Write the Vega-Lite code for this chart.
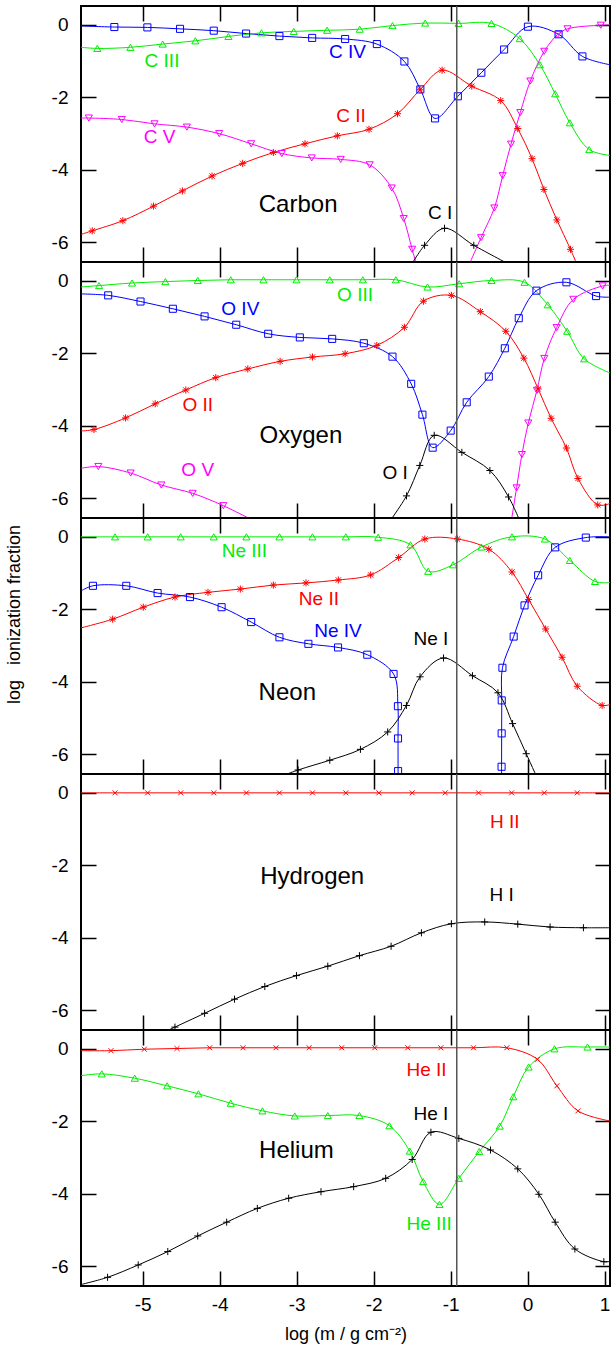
{
"$schema": "https://vega.github.io/schema/vega-lite/v6.json",
"padding": {"left": 4, "right": 0, "top": 4, "bottom": 0},
"spacing": 0,
"bounds": "flush",
"config": {
  "font": "Liberation Sans",
  "view": {"stroke": "#000000", "strokeWidth": 2},
  "axis": {"domain": false, "ticks": false, "grid": true, "gridColor": "#000000", "gridWidth": 1.5, "gridOpacity": 1, "labelFont": "Liberation Sans", "labelFontSize": 19, "labelColor": "#000000", "titleFont": "Liberation Sans", "titleFontSize": 18, "titleFontWeight": "normal", "titleColor": "#000000"},
  "axisX": {"gridDash": [15, 226, 15, 0], "labelPadding": 9, "labelFlush": false, "titlePadding": 11},
  "axisY": {"gridDash": [15, 499, 15, 0], "labelPadding": 13, "titlePadding": 28}
},
"resolve": {"scale": {"x": "independent", "y": "independent", "color": "independent", "shape": "independent"}},
"datasets": {
"vline": [{"x": -0.92, "y": 0.52, "y2": -6.54}],
"curves": [
{"p":"C","s":"C4","st":"IV","x":-5.8,"y":-0.03},{"p":"C","s":"C4","st":"IV","x":-5.367,"y":-0.06},{"p":"C","s":"C4","st":"IV","x":-4.938,"y":-0.07},{"p":"C","s":"C4","st":"IV","x":-4.514,"y":-0.11},{"p":"C","s":"C4","st":"IV","x":-4.076,"y":-0.16},{"p":"C","s":"C4","st":"IV","x":-3.656,"y":-0.24},{"p":"C","s":"C4","st":"IV","x":-3.223,"y":-0.31},{"p":"C","s":"C4","st":"IV","x":-2.798,"y":-0.36},{"p":"C","s":"C4","st":"IV","x":-2.37,"y":-0.39},{"p":"C","s":"C4","st":"IV","x":-1.958,"y":-0.53},{"p":"C","s":"C4","st":"IV","x":-1.6,"y":-1.01},{"p":"C","s":"C4","st":"IV","x":-1.393,"y":-1.78},{"p":"C","s":"C4","st":"IV","x":-1.202,"y":-2.58},{"p":"C","s":"C4","st":"IV","x":-0.906,"y":-1.97},{"p":"C","s":"C4","st":"IV","x":-0.601,"y":-1.32},{"p":"C","s":"C4","st":"IV","x":-0.305,"y":-0.68},{"p":"C","s":"C4","st":"IV","x":0.004,"y":-0.05},{"p":"C","s":"C4","st":"IV","x":0.402,"y":-0.26},{"p":"C","s":"C4","st":"IV","x":0.712,"y":-0.87},{"p":"C","s":"C4","st":"IV","x":1.07,"y":-1.1},
{"p":"C","s":"C3","st":"III","x":-5.8,"y":-0.62},{"p":"C","s":"C3","st":"III","x":-5.588,"y":-0.65},{"p":"C","s":"C3","st":"III","x":-5.159,"y":-0.62},{"p":"C","s":"C3","st":"III","x":-4.739,"y":-0.53},{"p":"C","s":"C3","st":"III","x":-4.315,"y":-0.44},{"p":"C","s":"C3","st":"III","x":-3.886,"y":-0.32},{"p":"C","s":"C3","st":"III","x":-3.457,"y":-0.22},{"p":"C","s":"C3","st":"III","x":-3.037,"y":-0.18},{"p":"C","s":"C3","st":"III","x":-2.604,"y":-0.15},{"p":"C","s":"C3","st":"III","x":-2.18,"y":-0.12},{"p":"C","s":"C3","st":"III","x":-1.755,"y":-0.02},{"p":"C","s":"C3","st":"III","x":-1.33,"y":0.05},{"p":"C","s":"C3","st":"III","x":-0.897,"y":0.04},{"p":"C","s":"C3","st":"III","x":-0.469,"y":0.04},{"p":"C","s":"C3","st":"III","x":-0.102,"y":-0.38},{"p":"C","s":"C3","st":"III","x":0.159,"y":-1.1},{"p":"C","s":"C3","st":"III","x":0.358,"y":-1.9},{"p":"C","s":"C3","st":"III","x":0.548,"y":-2.7},{"p":"C","s":"C3","st":"III","x":0.8,"y":-3.44},{"p":"C","s":"C3","st":"III","x":1.07,"y":-3.6},
{"p":"C","s":"C2","st":"II","x":-5.8,"y":-5.78},{"p":"C","s":"C2","st":"II","x":-5.654,"y":-5.68},{"p":"C","s":"C2","st":"II","x":-5.256,"y":-5.4},{"p":"C","s":"C2","st":"II","x":-4.859,"y":-5.0},{"p":"C","s":"C2","st":"II","x":-4.483,"y":-4.58},{"p":"C","s":"C2","st":"II","x":-4.098,"y":-4.17},{"p":"C","s":"C2","st":"II","x":-3.7,"y":-3.82},{"p":"C","s":"C2","st":"II","x":-3.302,"y":-3.52},{"p":"C","s":"C2","st":"II","x":-2.891,"y":-3.28},{"p":"C","s":"C2","st":"II","x":-2.471,"y":-3.06},{"p":"C","s":"C2","st":"II","x":-2.06,"y":-2.88},{"p":"C","s":"C2","st":"II","x":-1.689,"y":-2.45},{"p":"C","s":"C2","st":"II","x":-1.397,"y":-1.79},{"p":"C","s":"C2","st":"II","x":-1.11,"y":-1.25},{"p":"C","s":"C2","st":"II","x":-0.725,"y":-1.69},{"p":"C","s":"C2","st":"II","x":-0.349,"y":-2.09},{"p":"C","s":"C2","st":"II","x":-0.128,"y":-2.86},{"p":"C","s":"C2","st":"II","x":0.058,"y":-3.69},{"p":"C","s":"C2","st":"II","x":0.212,"y":-4.54},{"p":"C","s":"C2","st":"II","x":0.38,"y":-5.38},{"p":"C","s":"C2","st":"II","x":0.557,"y":-6.19},{"p":"C","s":"C2","st":"II","x":0.72,"y":-7.0},
{"p":"C","s":"C5a","st":"V","x":-5.8,"y":-2.57},{"p":"C","s":"C5a","st":"V","x":-5.698,"y":-2.57},{"p":"C","s":"C5a","st":"V","x":-5.27,"y":-2.61},{"p":"C","s":"C5a","st":"V","x":-4.845,"y":-2.73},{"p":"C","s":"C5a","st":"V","x":-4.425,"y":-2.82},{"p":"C","s":"C5a","st":"V","x":-4.005,"y":-3.0},{"p":"C","s":"C5a","st":"V","x":-3.59,"y":-3.28},{"p":"C","s":"C5a","st":"V","x":-3.192,"y":-3.55},{"p":"C","s":"C5a","st":"V","x":-2.803,"y":-3.67},{"p":"C","s":"C5a","st":"V","x":-2.427,"y":-3.71},{"p":"C","s":"C5a","st":"V","x":-2.051,"y":-3.86},{"p":"C","s":"C5a","st":"V","x":-1.764,"y":-4.5},{"p":"C","s":"C5a","st":"V","x":-1.609,"y":-5.34},{"p":"C","s":"C5a","st":"V","x":-1.499,"y":-6.19},{"p":"C","s":"C5a","st":"V","x":-1.39,"y":-7.0},
{"p":"C","s":"C5b","st":"V","x":-0.84,"y":-7.0},{"p":"C","s":"C5b","st":"V","x":-0.605,"y":-5.87},{"p":"C","s":"C5b","st":"V","x":-0.432,"y":-5.05},{"p":"C","s":"C5b","st":"V","x":-0.324,"y":-4.16},{"p":"C","s":"C5b","st":"V","x":-0.216,"y":-3.29},{"p":"C","s":"C5b","st":"V","x":-0.095,"y":-2.42},{"p":"C","s":"C5b","st":"V","x":0.035,"y":-1.55},{"p":"C","s":"C5b","st":"V","x":0.216,"y":-0.73},{"p":"C","s":"C5b","st":"V","x":0.389,"y":-0.27},{"p":"C","s":"C5b","st":"V","x":0.518,"y":-0.11},{"p":"C","s":"C5b","st":"V","x":0.95,"y":-0.01},{"p":"C","s":"C5b","st":"V","x":1.07,"y":0.0},
{"p":"C","s":"C1","st":"I","x":-1.56,"y":-6.8},{"p":"C","s":"C1","st":"I","x":-1.338,"y":-6.08},{"p":"C","s":"C1","st":"I","x":-1.079,"y":-5.61},{"p":"C","s":"C1","st":"I","x":-0.699,"y":-6.08},{"p":"C","s":"C1","st":"I","x":-0.2,"y":-6.65},
{"p":"O","s":"O3","st":"III","x":-5.8,"y":-0.17},{"p":"O","s":"O3","st":"III","x":-5.566,"y":-0.13},{"p":"O","s":"O3","st":"III","x":-5.137,"y":-0.06},{"p":"O","s":"O3","st":"III","x":-4.704,"y":-0.02},{"p":"O","s":"O3","st":"III","x":-4.284,"y":0.01},{"p":"O","s":"O3","st":"III","x":-3.855,"y":0.03},{"p":"O","s":"O3","st":"III","x":-3.431,"y":0.03},{"p":"O","s":"O3","st":"III","x":-3.002,"y":0.03},{"p":"O","s":"O3","st":"III","x":-2.569,"y":0.03},{"p":"O","s":"O3","st":"III","x":-2.14,"y":0.03},{"p":"O","s":"O3","st":"III","x":-1.711,"y":0.03},{"p":"O","s":"O3","st":"III","x":-1.3,"y":-0.17},{"p":"O","s":"O3","st":"III","x":-0.889,"y":-0.08},{"p":"O","s":"O3","st":"III","x":-0.469,"y":0.01},{"p":"O","s":"O3","st":"III","x":-0.04,"y":-0.04},{"p":"O","s":"O3","st":"III","x":0.261,"y":-0.66},{"p":"O","s":"O3","st":"III","x":0.513,"y":-1.39},{"p":"O","s":"O3","st":"III","x":0.734,"y":-2.15},{"p":"O","s":"O3","st":"III","x":1.07,"y":-2.54},
{"p":"O","s":"O4","st":"IV","x":-5.8,"y":-0.36},{"p":"O","s":"O4","st":"IV","x":-5.447,"y":-0.4},{"p":"O","s":"O4","st":"IV","x":-5.027,"y":-0.57},{"p":"O","s":"O4","st":"IV","x":-4.607,"y":-0.77},{"p":"O","s":"O4","st":"IV","x":-4.195,"y":-0.98},{"p":"O","s":"O4","st":"IV","x":-3.784,"y":-1.21},{"p":"O","s":"O4","st":"IV","x":-3.369,"y":-1.46},{"p":"O","s":"O4","st":"IV","x":-2.958,"y":-1.56},{"p":"O","s":"O4","st":"IV","x":-2.538,"y":-1.6},{"p":"O","s":"O4","st":"IV","x":-2.127,"y":-1.72},{"p":"O","s":"O4","st":"IV","x":-1.755,"y":-2.09},{"p":"O","s":"O4","st":"IV","x":-1.512,"y":-2.84},{"p":"O","s":"O4","st":"IV","x":-1.366,"y":-3.69},{"p":"O","s":"O4","st":"IV","x":-1.233,"y":-4.6},{"p":"O","s":"O4","st":"IV","x":-0.999,"y":-4.13},{"p":"O","s":"O4","st":"IV","x":-0.791,"y":-3.35},{"p":"O","s":"O4","st":"IV","x":-0.504,"y":-2.64},{"p":"O","s":"O4","st":"IV","x":-0.296,"y":-1.86},{"p":"O","s":"O4","st":"IV","x":-0.115,"y":-1.03},{"p":"O","s":"O4","st":"IV","x":0.115,"y":-0.27},{"p":"O","s":"O4","st":"IV","x":0.504,"y":-0.04},{"p":"O","s":"O4","st":"IV","x":0.889,"y":-0.42},{"p":"O","s":"O4","st":"IV","x":1.07,"y":-0.45},
{"p":"O","s":"O2","st":"II","x":-5.8,"y":-4.14},{"p":"O","s":"O2","st":"II","x":-5.632,"y":-4.1},{"p":"O","s":"O2","st":"II","x":-5.221,"y":-3.78},{"p":"O","s":"O2","st":"II","x":-4.836,"y":-3.39},{"p":"O","s":"O2","st":"II","x":-4.439,"y":-3.01},{"p":"O","s":"O2","st":"II","x":-4.05,"y":-2.67},{"p":"O","s":"O2","st":"II","x":-3.634,"y":-2.43},{"p":"O","s":"O2","st":"II","x":-3.214,"y":-2.22},{"p":"O","s":"O2","st":"II","x":-2.794,"y":-2.1},{"p":"O","s":"O2","st":"II","x":-2.37,"y":-2.01},{"p":"O","s":"O2","st":"II","x":-1.958,"y":-1.78},{"p":"O","s":"O2","st":"II","x":-1.6,"y":-1.28},{"p":"O","s":"O2","st":"II","x":-1.353,"y":-0.56},{"p":"O","s":"O2","st":"II","x":-0.99,"y":-0.4},{"p":"O","s":"O2","st":"II","x":-0.614,"y":-0.85},{"p":"O","s":"O2","st":"II","x":-0.283,"y":-1.39},{"p":"O","s":"O2","st":"II","x":-0.049,"y":-2.13},{"p":"O","s":"O2","st":"II","x":0.137,"y":-2.98},{"p":"O","s":"O2","st":"II","x":0.305,"y":-3.79},{"p":"O","s":"O2","st":"II","x":0.504,"y":-4.61},{"p":"O","s":"O2","st":"II","x":0.654,"y":-5.45},{"p":"O","s":"O2","st":"II","x":0.911,"y":-6.18},{"p":"O","s":"O2","st":"II","x":1.07,"y":-6.14},
{"p":"O","s":"O5a","st":"V","x":-5.8,"y":-5.17},{"p":"O","s":"O5a","st":"V","x":-5.575,"y":-5.12},{"p":"O","s":"O5a","st":"V","x":-5.155,"y":-5.3},{"p":"O","s":"O5a","st":"V","x":-4.757,"y":-5.63},{"p":"O","s":"O5a","st":"V","x":-4.35,"y":-5.86},{"p":"O","s":"O5a","st":"V","x":-3.952,"y":-6.2},{"p":"O","s":"O5a","st":"V","x":-3.39,"y":-6.8},
{"p":"O","s":"O5b","st":"V","x":-0.24,"y":-7.0},{"p":"O","s":"O5b","st":"V","x":-0.143,"y":-5.71},{"p":"O","s":"O5b","st":"V","x":-0.074,"y":-4.79},{"p":"O","s":"O5b","st":"V","x":0.009,"y":-3.92},{"p":"O","s":"O5b","st":"V","x":0.121,"y":-3.02},{"p":"O","s":"O5b","st":"V","x":0.217,"y":-2.14},{"p":"O","s":"O5b","st":"V","x":0.377,"y":-1.29},{"p":"O","s":"O5b","st":"V","x":0.594,"y":-0.51},{"p":"O","s":"O5b","st":"V","x":0.975,"y":-0.14},{"p":"O","s":"O5b","st":"V","x":1.07,"y":-0.12},
{"p":"O","s":"O1","st":"I","x":-1.88,"y":-6.9},{"p":"O","s":"O1","st":"I","x":-1.573,"y":-5.93},{"p":"O","s":"O1","st":"I","x":-1.4,"y":-5.09},{"p":"O","s":"O1","st":"I","x":-1.213,"y":-4.26},{"p":"O","s":"O1","st":"I","x":-0.854,"y":-4.73},{"p":"O","s":"O1","st":"I","x":-0.49,"y":-5.23},{"p":"O","s":"O1","st":"I","x":-0.247,"y":-5.96},{"p":"O","s":"O1","st":"I","x":-0.065,"y":-6.8},
{"p":"Ne","s":"Ne3","st":"III","x":-5.8,"y":0.0},{"p":"Ne","s":"Ne3","st":"III","x":-5.358,"y":0.0},{"p":"Ne","s":"Ne3","st":"III","x":-4.934,"y":0.0},{"p":"Ne","s":"Ne3","st":"III","x":-4.505,"y":0.0},{"p":"Ne","s":"Ne3","st":"III","x":-4.076,"y":0.0},{"p":"Ne","s":"Ne3","st":"III","x":-3.652,"y":0.0},{"p":"Ne","s":"Ne3","st":"III","x":-3.223,"y":0.0},{"p":"Ne","s":"Ne3","st":"III","x":-2.794,"y":0.0},{"p":"Ne","s":"Ne3","st":"III","x":-2.361,"y":0.0},{"p":"Ne","s":"Ne3","st":"III","x":-1.941,"y":-0.01},{"p":"Ne","s":"Ne3","st":"III","x":-1.521,"y":-0.22},{"p":"Ne","s":"Ne3","st":"III","x":-1.291,"y":-0.95},{"p":"Ne","s":"Ne3","st":"III","x":-0.968,"y":-0.77},{"p":"Ne","s":"Ne3","st":"III","x":-0.601,"y":-0.28},{"p":"Ne","s":"Ne3","st":"III","x":-0.203,"y":0.0},{"p":"Ne","s":"Ne3","st":"III","x":0.225,"y":-0.06},{"p":"Ne","s":"Ne3","st":"III","x":0.548,"y":-0.65},{"p":"Ne","s":"Ne3","st":"III","x":0.875,"y":-1.23},{"p":"Ne","s":"Ne3","st":"III","x":1.07,"y":-1.26},
{"p":"Ne","s":"Ne2","st":"II","x":-5.8,"y":-2.51},{"p":"Ne","s":"Ne2","st":"II","x":-5.389,"y":-2.27},{"p":"Ne","s":"Ne2","st":"II","x":-4.991,"y":-1.94},{"p":"Ne","s":"Ne2","st":"II","x":-4.58,"y":-1.66},{"p":"Ne","s":"Ne2","st":"II","x":-4.151,"y":-1.53},{"p":"Ne","s":"Ne2","st":"II","x":-3.731,"y":-1.44},{"p":"Ne","s":"Ne2","st":"II","x":-3.302,"y":-1.33},{"p":"Ne","s":"Ne2","st":"II","x":-2.878,"y":-1.27},{"p":"Ne","s":"Ne2","st":"II","x":-2.458,"y":-1.19},{"p":"Ne","s":"Ne2","st":"II","x":-2.038,"y":-1.05},{"p":"Ne","s":"Ne2","st":"II","x":-1.675,"y":-0.57},{"p":"Ne","s":"Ne2","st":"II","x":-1.335,"y":-0.06},{"p":"Ne","s":"Ne2","st":"II","x":-0.911,"y":-0.06},{"p":"Ne","s":"Ne2","st":"II","x":-0.504,"y":-0.34},{"p":"Ne","s":"Ne2","st":"II","x":-0.203,"y":-0.97},{"p":"Ne","s":"Ne2","st":"II","x":0.013,"y":-1.73},{"p":"Ne","s":"Ne2","st":"II","x":0.234,"y":-2.54},{"p":"Ne","s":"Ne2","st":"II","x":0.447,"y":-3.32},{"p":"Ne","s":"Ne2","st":"II","x":0.645,"y":-4.12},{"p":"Ne","s":"Ne2","st":"II","x":0.968,"y":-4.65},{"p":"Ne","s":"Ne2","st":"II","x":1.07,"y":-4.62},
{"p":"Ne","s":"Ne4a","st":"IV","x":-5.8,"y":-1.49},{"p":"Ne","s":"Ne4a","st":"IV","x":-5.645,"y":-1.35},{"p":"Ne","s":"Ne4a","st":"IV","x":-5.212,"y":-1.35},{"p":"Ne","s":"Ne4a","st":"IV","x":-4.805,"y":-1.55},{"p":"Ne","s":"Ne4a","st":"IV","x":-4.385,"y":-1.66},{"p":"Ne","s":"Ne4a","st":"IV","x":-3.974,"y":-1.94},{"p":"Ne","s":"Ne4a","st":"IV","x":-3.59,"y":-2.35},{"p":"Ne","s":"Ne4a","st":"IV","x":-3.223,"y":-2.77},{"p":"Ne","s":"Ne4a","st":"IV","x":-2.847,"y":-2.95},{"p":"Ne","s":"Ne4a","st":"IV","x":-2.462,"y":-3.05},{"p":"Ne","s":"Ne4a","st":"IV","x":-2.082,"y":-3.25},{"p":"Ne","s":"Ne4a","st":"IV","x":-1.741,"y":-3.78},{"p":"Ne","s":"Ne4a","st":"IV","x":-1.684,"y":-4.67},{"p":"Ne","s":"Ne4a","st":"IV","x":-1.683,"y":-5.56},{"p":"Ne","s":"Ne4a","st":"IV","x":-1.682,"y":-6.46},{"p":"Ne","s":"Ne4a","st":"IV","x":-1.681,"y":-7.2},
{"p":"Ne","s":"Ne4b","st":"IV","x":-0.339,"y":-7.2},{"p":"Ne","s":"Ne4b","st":"IV","x":-0.338,"y":-6.34},{"p":"Ne","s":"Ne4b","st":"IV","x":-0.337,"y":-5.42},{"p":"Ne","s":"Ne4b","st":"IV","x":-0.336,"y":-4.51},{"p":"Ne","s":"Ne4b","st":"IV","x":-0.327,"y":-3.61},{"p":"Ne","s":"Ne4b","st":"IV","x":-0.181,"y":-2.75},{"p":"Ne","s":"Ne4b","st":"IV","x":-0.04,"y":-1.89},{"p":"Ne","s":"Ne4b","st":"IV","x":0.137,"y":-1.06},{"p":"Ne","s":"Ne4b","st":"IV","x":0.358,"y":-0.29},{"p":"Ne","s":"Ne4b","st":"IV","x":0.756,"y":-0.02},{"p":"Ne","s":"Ne4b","st":"IV","x":1.07,"y":0.0},
{"p":"Ne","s":"Ne1","st":"I","x":-3.32,"y":-6.7},{"p":"Ne","s":"Ne1","st":"I","x":-2.98,"y":-6.43},{"p":"Ne","s":"Ne1","st":"I","x":-2.569,"y":-6.16},{"p":"Ne","s":"Ne1","st":"I","x":-2.171,"y":-5.86},{"p":"Ne","s":"Ne1","st":"I","x":-1.817,"y":-5.38},{"p":"Ne","s":"Ne1","st":"I","x":-1.574,"y":-4.65},{"p":"Ne","s":"Ne1","st":"I","x":-1.397,"y":-3.86},{"p":"Ne","s":"Ne1","st":"I","x":-1.092,"y":-3.34},{"p":"Ne","s":"Ne1","st":"I","x":-0.716,"y":-3.83},{"p":"Ne","s":"Ne1","st":"I","x":-0.385,"y":-4.3},{"p":"Ne","s":"Ne1","st":"I","x":-0.195,"y":-5.15},{"p":"Ne","s":"Ne1","st":"I","x":-0.018,"y":-5.98},{"p":"Ne","s":"Ne1","st":"I","x":0.157,"y":-6.8},
{"p":"H","s":"H2","st":"II","x":-5.8,"y":0},{"p":"H","s":"H2","st":"II","x":-5.358,"y":0},{"p":"H","s":"H2","st":"II","x":-4.934,"y":0},{"p":"H","s":"H2","st":"II","x":-4.505,"y":0},{"p":"H","s":"H2","st":"II","x":-4.076,"y":0},{"p":"H","s":"H2","st":"II","x":-3.652,"y":0},{"p":"H","s":"H2","st":"II","x":-3.223,"y":0},{"p":"H","s":"H2","st":"II","x":-2.794,"y":0},{"p":"H","s":"H2","st":"II","x":-2.361,"y":0},{"p":"H","s":"H2","st":"II","x":-1.932,"y":0},{"p":"H","s":"H2","st":"II","x":-1.499,"y":0},{"p":"H","s":"H2","st":"II","x":-1.07,"y":0},{"p":"H","s":"H2","st":"II","x":-0.637,"y":0},{"p":"H","s":"H2","st":"II","x":-0.208,"y":0},{"p":"H","s":"H2","st":"II","x":0.217,"y":0},{"p":"H","s":"H2","st":"II","x":0.645,"y":0},{"p":"H","s":"H2","st":"II","x":1.07,"y":0},
{"p":"H","s":"H1","st":"I","x":-4.74,"y":-6.62},{"p":"H","s":"H1","st":"I","x":-4.58,"y":-6.46},{"p":"H","s":"H1","st":"I","x":-4.195,"y":-6.08},{"p":"H","s":"H1","st":"I","x":-3.806,"y":-5.69},{"p":"H","s":"H1","st":"I","x":-3.413,"y":-5.34},{"p":"H","s":"H1","st":"I","x":-3.002,"y":-5.04},{"p":"H","s":"H1","st":"I","x":-2.595,"y":-4.78},{"p":"H","s":"H1","st":"I","x":-2.184,"y":-4.49},{"p":"H","s":"H1","st":"I","x":-1.773,"y":-4.23},{"p":"H","s":"H1","st":"I","x":-1.379,"y":-3.86},{"p":"H","s":"H1","st":"I","x":-0.99,"y":-3.61},{"p":"H","s":"H1","st":"I","x":-0.557,"y":-3.56},{"p":"H","s":"H1","st":"I","x":-0.128,"y":-3.62},{"p":"H","s":"H1","st":"I","x":0.292,"y":-3.7},{"p":"H","s":"H1","st":"I","x":0.725,"y":-3.72},{"p":"H","s":"H1","st":"I","x":1.07,"y":-3.72},
{"p":"He","s":"He2","st":"II","x":-5.8,"y":-0.05},{"p":"He","s":"He2","st":"II","x":-5.411,"y":-0.05},{"p":"He","s":"He2","st":"II","x":-4.978,"y":-0.01},{"p":"He","s":"He2","st":"II","x":-4.553,"y":0.01},{"p":"He","s":"He2","st":"II","x":-4.129,"y":0.03},{"p":"He","s":"He2","st":"II","x":-3.696,"y":0.03},{"p":"He","s":"He2","st":"II","x":-3.267,"y":0.03},{"p":"He","s":"He2","st":"II","x":-2.838,"y":0.03},{"p":"He","s":"He2","st":"II","x":-2.414,"y":0.03},{"p":"He","s":"He2","st":"II","x":-1.985,"y":0.03},{"p":"He","s":"He2","st":"II","x":-1.556,"y":0.03},{"p":"He","s":"He2","st":"II","x":-1.127,"y":0.03},{"p":"He","s":"He2","st":"II","x":-0.703,"y":0.03},{"p":"He","s":"He2","st":"II","x":-0.27,"y":0.03},{"p":"He","s":"He2","st":"II","x":0.128,"y":-0.29},{"p":"He","s":"He2","st":"II","x":0.38,"y":-1.02},{"p":"He","s":"He2","st":"II","x":0.654,"y":-1.71},{"p":"He","s":"He2","st":"II","x":1.07,"y":-1.99},
{"p":"He","s":"He3","st":"III","x":-5.8,"y":-0.74},{"p":"He","s":"He3","st":"III","x":-5.53,"y":-0.69},{"p":"He","s":"He3","st":"III","x":-5.102,"y":-0.81},{"p":"He","s":"He3","st":"III","x":-4.682,"y":-1.02},{"p":"He","s":"He3","st":"III","x":-4.275,"y":-1.24},{"p":"He","s":"He3","st":"III","x":-3.855,"y":-1.5},{"p":"He","s":"He3","st":"III","x":-3.444,"y":-1.71},{"p":"He","s":"He3","st":"III","x":-3.024,"y":-1.85},{"p":"He","s":"He3","st":"III","x":-2.595,"y":-1.84},{"p":"He","s":"He3","st":"III","x":-2.184,"y":-1.84},{"p":"He","s":"He3","st":"III","x":-1.795,"y":-2.12},{"p":"He","s":"He3","st":"III","x":-1.53,"y":-2.82},{"p":"He","s":"He3","st":"III","x":-1.357,"y":-3.66},{"p":"He","s":"He3","st":"III","x":-1.145,"y":-4.29},{"p":"He","s":"He3","st":"III","x":-0.893,"y":-3.57},{"p":"He","s":"He3","st":"III","x":-0.628,"y":-2.83},{"p":"He","s":"He3","st":"III","x":-0.362,"y":-2.13},{"p":"He","s":"He3","st":"III","x":-0.186,"y":-1.32},{"p":"He","s":"He3","st":"III","x":0.013,"y":-0.5},{"p":"He","s":"He3","st":"III","x":0.349,"y":0.0},{"p":"He","s":"He3","st":"III","x":0.778,"y":0.05},{"p":"He","s":"He3","st":"III","x":1.07,"y":0.05},
{"p":"He","s":"He1","st":"I","x":-5.8,"y":-6.5},{"p":"He","s":"He1","st":"I","x":-5.455,"y":-6.3},{"p":"He","s":"He1","st":"I","x":-5.057,"y":-5.96},{"p":"He","s":"He1","st":"I","x":-4.673,"y":-5.59},{"p":"He","s":"He1","st":"I","x":-4.284,"y":-5.16},{"p":"He","s":"He1","st":"I","x":-3.908,"y":-4.78},{"p":"He","s":"He1","st":"I","x":-3.51,"y":-4.4},{"p":"He","s":"He1","st":"I","x":-3.103,"y":-4.12},{"p":"He","s":"He1","st":"I","x":-2.683,"y":-3.94},{"p":"He","s":"He1","st":"I","x":-2.259,"y":-3.8},{"p":"He","s":"He1","st":"I","x":-1.843,"y":-3.57},{"p":"He","s":"He1","st":"I","x":-1.499,"y":-3.05},{"p":"He","s":"He1","st":"I","x":-1.256,"y":-2.3},{"p":"He","s":"He1","st":"I","x":-0.893,"y":-2.47},{"p":"He","s":"He1","st":"I","x":-0.482,"y":-2.79},{"p":"He","s":"He1","st":"I","x":-0.128,"y":-3.31},{"p":"He","s":"He1","st":"I","x":0.146,"y":-4.01},{"p":"He","s":"He1","st":"I","x":0.358,"y":-4.78},{"p":"He","s":"He1","st":"I","x":0.614,"y":-5.52},{"p":"He","s":"He1","st":"I","x":0.99,"y":-5.87},{"p":"He","s":"He1","st":"I","x":1.07,"y":-5.86}
],
"labels": [
{"p":"C","t":"C III","st":"III","x":-4.748,"y":-1.01},{"p":"C","t":"C IV","st":"IV","x":-2.339,"y":-0.76},{"p":"C","t":"C II","st":"II","x":-2.294,"y":-2.5},{"p":"C","t":"C V","st":"V","x":-4.779,"y":-3.08},{"p":"C","t":"Carbon","st":"el","x":-2.98,"y":-4.97},{"p":"C","t":"C I","st":"I","x":-1.136,"y":-5.2},
{"p":"O","t":"O III","st":"III","x":-2.241,"y":-0.39},{"p":"O","t":"O IV","st":"IV","x":-3.731,"y":-0.77},{"p":"O","t":"O II","st":"II","x":-4.284,"y":-3.41},{"p":"O","t":"Oxygen","st":"el","x":-2.944,"y":-4.29},{"p":"O","t":"O V","st":"V","x":-4.284,"y":-5.21},{"p":"O","t":"O I","st":"I","x":-1.72,"y":-5.31},
{"p":"Ne","t":"Ne III","st":"III","x":-3.678,"y":-0.39},{"p":"Ne","t":"Ne II","st":"II","x":-2.71,"y":-1.71},{"p":"Ne","t":"Ne IV","st":"IV","x":-2.462,"y":-2.61},{"p":"Ne","t":"Ne I","st":"I","x":-1.256,"y":-2.81},{"p":"Ne","t":"Neon","st":"el","x":-3.121,"y":-4.3},
{"p":"H","t":"H II","st":"II","x":-0.296,"y":-0.81},{"p":"H","t":"Hydrogen","st":"el","x":-2.798,"y":-2.32},{"p":"H","t":"H I","st":"I","x":-0.336,"y":-2.83},
{"p":"He","t":"He II","st":"II","x":-1.313,"y":-0.58},{"p":"He","t":"He I","st":"I","x":-1.256,"y":-1.8},{"p":"He","t":"Helium","st":"el","x":-3.002,"y":-2.81},{"p":"He","t":"He III","st":"III","x":-1.278,"y":-4.83}
]
},
"vconcat": [
{
 "width": 529, "height": 256,
 "encoding": {
  "x": {"field": "x", "type": "quantitative", "scale": {"domain": [-5.8, 1.07], "nice": false, "zero": false}, "axis": {"values": [-5,-4,-3,-2,-1,0,1], "labels": false, "title": null}},
  "y": {"field": "y", "type": "quantitative", "scale": {"domain": [-6.54, 0.52], "nice": false, "zero": false}, "axis": {"values": [0,-2,-4,-6], "title": null, "labelExpr": "replace(datum.label, '\u2212', '-')"}},
  "color": {"field": "st", "type": "nominal", "scale": {"domain": ["I","II","III","IV","V","el"], "range": ["#000000","#ff0000","#00ee00","#0000ff","#ff00ff","#000000"]}, "legend": null}
 },
 "layer": [
   {"data": {"name": "curves"}, "transform": [{"filter": "datum.p === 'C'"}],
    "mark": {"type": "line", "clip": true, "interpolate": "catmull-rom", "strokeWidth": 1},
    "encoding": {"detail": {"field": "s", "type": "nominal"}}},
   {"data": {"name": "curves"}, "transform": [{"filter": "datum.p === 'C' && datum.x > -5.79 && datum.x < 1.06 && datum.y > -6.6"}],
    "mark": {"type": "point", "clip": true, "filled": false, "opacity": 1, "strokeWidth": 1, "size": 50},
    "encoding": {"shape": {"field": "st", "type": "nominal", "scale": {"domain": ["I","II","III","IV","V"], "range": ["M-1,0L1,0M0,-1L0,1","M-1,0L1,0M0,-1L0,1M-0.75,-0.75L0.75,0.75M-0.75,0.75L0.75,-0.75","triangle-up","square","triangle-down"]}, "legend": null}}},
   {"data": {"name": "labels"}, "transform": [{"filter": "datum.p === 'C' && datum.st !== 'el'"}],
    "mark": {"type": "text", "fontSize": 19, "font": "Liberation Sans"},
    "encoding": {"text": {"field": "t"}}},
   {"data": {"name": "labels"}, "transform": [{"filter": "datum.p === 'C' && datum.st === 'el'"}],
    "mark": {"type": "text", "fontSize": 24, "font": "Liberation Sans"},
    "encoding": {"text": {"field": "t"}}},
   {"data": {"name": "vline"},
    "mark": {"type": "rule", "color": "#555555", "strokeWidth": 1.5},
    "encoding": {"y2": {"field": "y2"}, "color": {"value": "#555555"}}}
 ]
},
{
 "width": 529, "height": 256,
 "encoding": {
  "x": {"field": "x", "type": "quantitative", "scale": {"domain": [-5.8, 1.07], "nice": false, "zero": false}, "axis": {"values": [-5,-4,-3,-2,-1,0,1], "labels": false, "title": null}},
  "y": {"field": "y", "type": "quantitative", "scale": {"domain": [-6.54, 0.52], "nice": false, "zero": false}, "axis": {"values": [0,-2,-4,-6], "title": null, "labelExpr": "replace(datum.label, '\u2212', '-')"}},
  "color": {"field": "st", "type": "nominal", "scale": {"domain": ["I","II","III","IV","V","el"], "range": ["#000000","#ff0000","#00ee00","#0000ff","#ff00ff","#000000"]}, "legend": null}
 },
 "layer": [
   {"data": {"name": "curves"}, "transform": [{"filter": "datum.p === 'O'"}],
    "mark": {"type": "line", "clip": true, "interpolate": "catmull-rom", "strokeWidth": 1},
    "encoding": {"detail": {"field": "s", "type": "nominal"}}},
   {"data": {"name": "curves"}, "transform": [{"filter": "datum.p === 'O' && datum.x > -5.79 && datum.x < 1.06 && datum.y > -6.6"}],
    "mark": {"type": "point", "clip": true, "filled": false, "opacity": 1, "strokeWidth": 1, "size": 50},
    "encoding": {"shape": {"field": "st", "type": "nominal", "scale": {"domain": ["I","II","III","IV","V"], "range": ["M-1,0L1,0M0,-1L0,1","M-1,0L1,0M0,-1L0,1M-0.75,-0.75L0.75,0.75M-0.75,0.75L0.75,-0.75","triangle-up","square","triangle-down"]}, "legend": null}}},
   {"data": {"name": "labels"}, "transform": [{"filter": "datum.p === 'O' && datum.st !== 'el'"}],
    "mark": {"type": "text", "fontSize": 19, "font": "Liberation Sans"},
    "encoding": {"text": {"field": "t"}}},
   {"data": {"name": "labels"}, "transform": [{"filter": "datum.p === 'O' && datum.st === 'el'"}],
    "mark": {"type": "text", "fontSize": 24, "font": "Liberation Sans"},
    "encoding": {"text": {"field": "t"}}},
   {"data": {"name": "vline"},
    "mark": {"type": "rule", "color": "#555555", "strokeWidth": 1.5},
    "encoding": {"y2": {"field": "y2"}, "color": {"value": "#555555"}}}
 ]
},
{
 "width": 529, "height": 256,
 "encoding": {
  "x": {"field": "x", "type": "quantitative", "scale": {"domain": [-5.8, 1.07], "nice": false, "zero": false}, "axis": {"values": [-5,-4,-3,-2,-1,0,1], "labels": false, "title": null}},
  "y": {"field": "y", "type": "quantitative", "scale": {"domain": [-6.54, 0.52], "nice": false, "zero": false}, "axis": {"values": [0,-2,-4,-6], "title": "log\u00a0\u00a0\u00a0ionization fraction", "titleY": 96, "labelExpr": "replace(datum.label, '\u2212', '-')"}},
  "color": {"field": "st", "type": "nominal", "scale": {"domain": ["I","II","III","IV","V","el"], "range": ["#000000","#ff0000","#00ee00","#0000ff","#ff00ff","#000000"]}, "legend": null}
 },
 "layer": [
   {"data": {"name": "curves"}, "transform": [{"filter": "datum.p === 'Ne'"}],
    "mark": {"type": "line", "clip": true, "interpolate": "catmull-rom", "strokeWidth": 1},
    "encoding": {"detail": {"field": "s", "type": "nominal"}}},
   {"data": {"name": "curves"}, "transform": [{"filter": "datum.p === 'Ne' && datum.x > -5.79 && datum.x < 1.06 && datum.y > -6.6"}],
    "mark": {"type": "point", "clip": true, "filled": false, "opacity": 1, "strokeWidth": 1, "size": 50},
    "encoding": {"shape": {"field": "st", "type": "nominal", "scale": {"domain": ["I","II","III","IV","V"], "range": ["M-1,0L1,0M0,-1L0,1","M-1,0L1,0M0,-1L0,1M-0.75,-0.75L0.75,0.75M-0.75,0.75L0.75,-0.75","triangle-up","square","triangle-down"]}, "legend": null}}},
   {"data": {"name": "labels"}, "transform": [{"filter": "datum.p === 'Ne' && datum.st !== 'el'"}],
    "mark": {"type": "text", "fontSize": 19, "font": "Liberation Sans"},
    "encoding": {"text": {"field": "t"}}},
   {"data": {"name": "labels"}, "transform": [{"filter": "datum.p === 'Ne' && datum.st === 'el'"}],
    "mark": {"type": "text", "fontSize": 24, "font": "Liberation Sans"},
    "encoding": {"text": {"field": "t"}}},
   {"data": {"name": "vline"},
    "mark": {"type": "rule", "color": "#555555", "strokeWidth": 1.5},
    "encoding": {"y2": {"field": "y2"}, "color": {"value": "#555555"}}}
 ]
},
{
 "width": 529, "height": 256,
 "encoding": {
  "x": {"field": "x", "type": "quantitative", "scale": {"domain": [-5.8, 1.07], "nice": false, "zero": false}, "axis": {"values": [-5,-4,-3,-2,-1,0,1], "labels": false, "title": null}},
  "y": {"field": "y", "type": "quantitative", "scale": {"domain": [-6.54, 0.52], "nice": false, "zero": false}, "axis": {"values": [0,-2,-4,-6], "title": null, "labelExpr": "replace(datum.label, '\u2212', '-')"}},
  "color": {"field": "st", "type": "nominal", "scale": {"domain": ["I","II","III","IV","V","el"], "range": ["#000000","#ff0000","#00ee00","#0000ff","#ff00ff","#000000"]}, "legend": null}
 },
 "layer": [
   {"data": {"name": "curves"}, "transform": [{"filter": "datum.p === 'H'"}],
    "mark": {"type": "line", "clip": true, "interpolate": "catmull-rom", "strokeWidth": 1},
    "encoding": {"detail": {"field": "s", "type": "nominal"}}},
   {"data": {"name": "curves"}, "transform": [{"filter": "datum.p === 'H' && datum.x > -5.79 && datum.x < 1.06 && datum.y > -6.6"}],
    "mark": {"type": "point", "clip": true, "filled": false, "opacity": 1, "strokeWidth": 1, "size": 50},
    "encoding": {"shape": {"field": "st", "type": "nominal", "scale": {"domain": ["I","II","III","IV","V"], "range": ["M-1,0L1,0M0,-1L0,1","M-0.7,-0.7L0.7,0.7M-0.7,0.7L0.7,-0.7","triangle-up","square","triangle-down"]}, "legend": null}}},
   {"data": {"name": "labels"}, "transform": [{"filter": "datum.p === 'H' && datum.st !== 'el'"}],
    "mark": {"type": "text", "fontSize": 19, "font": "Liberation Sans"},
    "encoding": {"text": {"field": "t"}}},
   {"data": {"name": "labels"}, "transform": [{"filter": "datum.p === 'H' && datum.st === 'el'"}],
    "mark": {"type": "text", "fontSize": 24, "font": "Liberation Sans"},
    "encoding": {"text": {"field": "t"}}},
   {"data": {"name": "vline"},
    "mark": {"type": "rule", "color": "#555555", "strokeWidth": 1.5},
    "encoding": {"y2": {"field": "y2"}, "color": {"value": "#555555"}}}
 ]
},
{
 "width": 529, "height": 256,
 "encoding": {
  "x": {"field": "x", "type": "quantitative", "scale": {"domain": [-5.8, 1.07], "nice": false, "zero": false}, "axis": {"values": [-5,-4,-3,-2,-1,0,1], "labels": true, "title": "log (m / g cm\u207b\u00b2)", "labelExpr": "replace(datum.label, '\u2212', '-')"}},
  "y": {"field": "y", "type": "quantitative", "scale": {"domain": [-6.54, 0.52], "nice": false, "zero": false}, "axis": {"values": [0,-2,-4,-6], "title": null, "labelExpr": "replace(datum.label, '\u2212', '-')"}},
  "color": {"field": "st", "type": "nominal", "scale": {"domain": ["I","II","III","IV","V","el"], "range": ["#000000","#ff0000","#00ee00","#0000ff","#ff00ff","#000000"]}, "legend": null}
 },
 "layer": [
   {"data": {"name": "curves"}, "transform": [{"filter": "datum.p === 'He'"}],
    "mark": {"type": "line", "clip": true, "interpolate": "catmull-rom", "strokeWidth": 1},
    "encoding": {"detail": {"field": "s", "type": "nominal"}}},
   {"data": {"name": "curves"}, "transform": [{"filter": "datum.p === 'He' && datum.x > -5.79 && datum.x < 1.06 && datum.y > -6.6"}],
    "mark": {"type": "point", "clip": true, "filled": false, "opacity": 1, "strokeWidth": 1, "size": 50},
    "encoding": {"shape": {"field": "st", "type": "nominal", "scale": {"domain": ["I","II","III","IV","V"], "range": ["M-1,0L1,0M0,-1L0,1","M-0.7,-0.7L0.7,0.7M-0.7,0.7L0.7,-0.7","triangle-up","square","triangle-down"]}, "legend": null}}},
   {"data": {"name": "labels"}, "transform": [{"filter": "datum.p === 'He' && datum.st !== 'el'"}],
    "mark": {"type": "text", "fontSize": 19, "font": "Liberation Sans"},
    "encoding": {"text": {"field": "t"}}},
   {"data": {"name": "labels"}, "transform": [{"filter": "datum.p === 'He' && datum.st === 'el'"}],
    "mark": {"type": "text", "fontSize": 24, "font": "Liberation Sans"},
    "encoding": {"text": {"field": "t"}}},
   {"data": {"name": "vline"},
    "mark": {"type": "rule", "color": "#555555", "strokeWidth": 1.5},
    "encoding": {"y2": {"field": "y2"}, "color": {"value": "#555555"}}}
 ]
}
]
}
